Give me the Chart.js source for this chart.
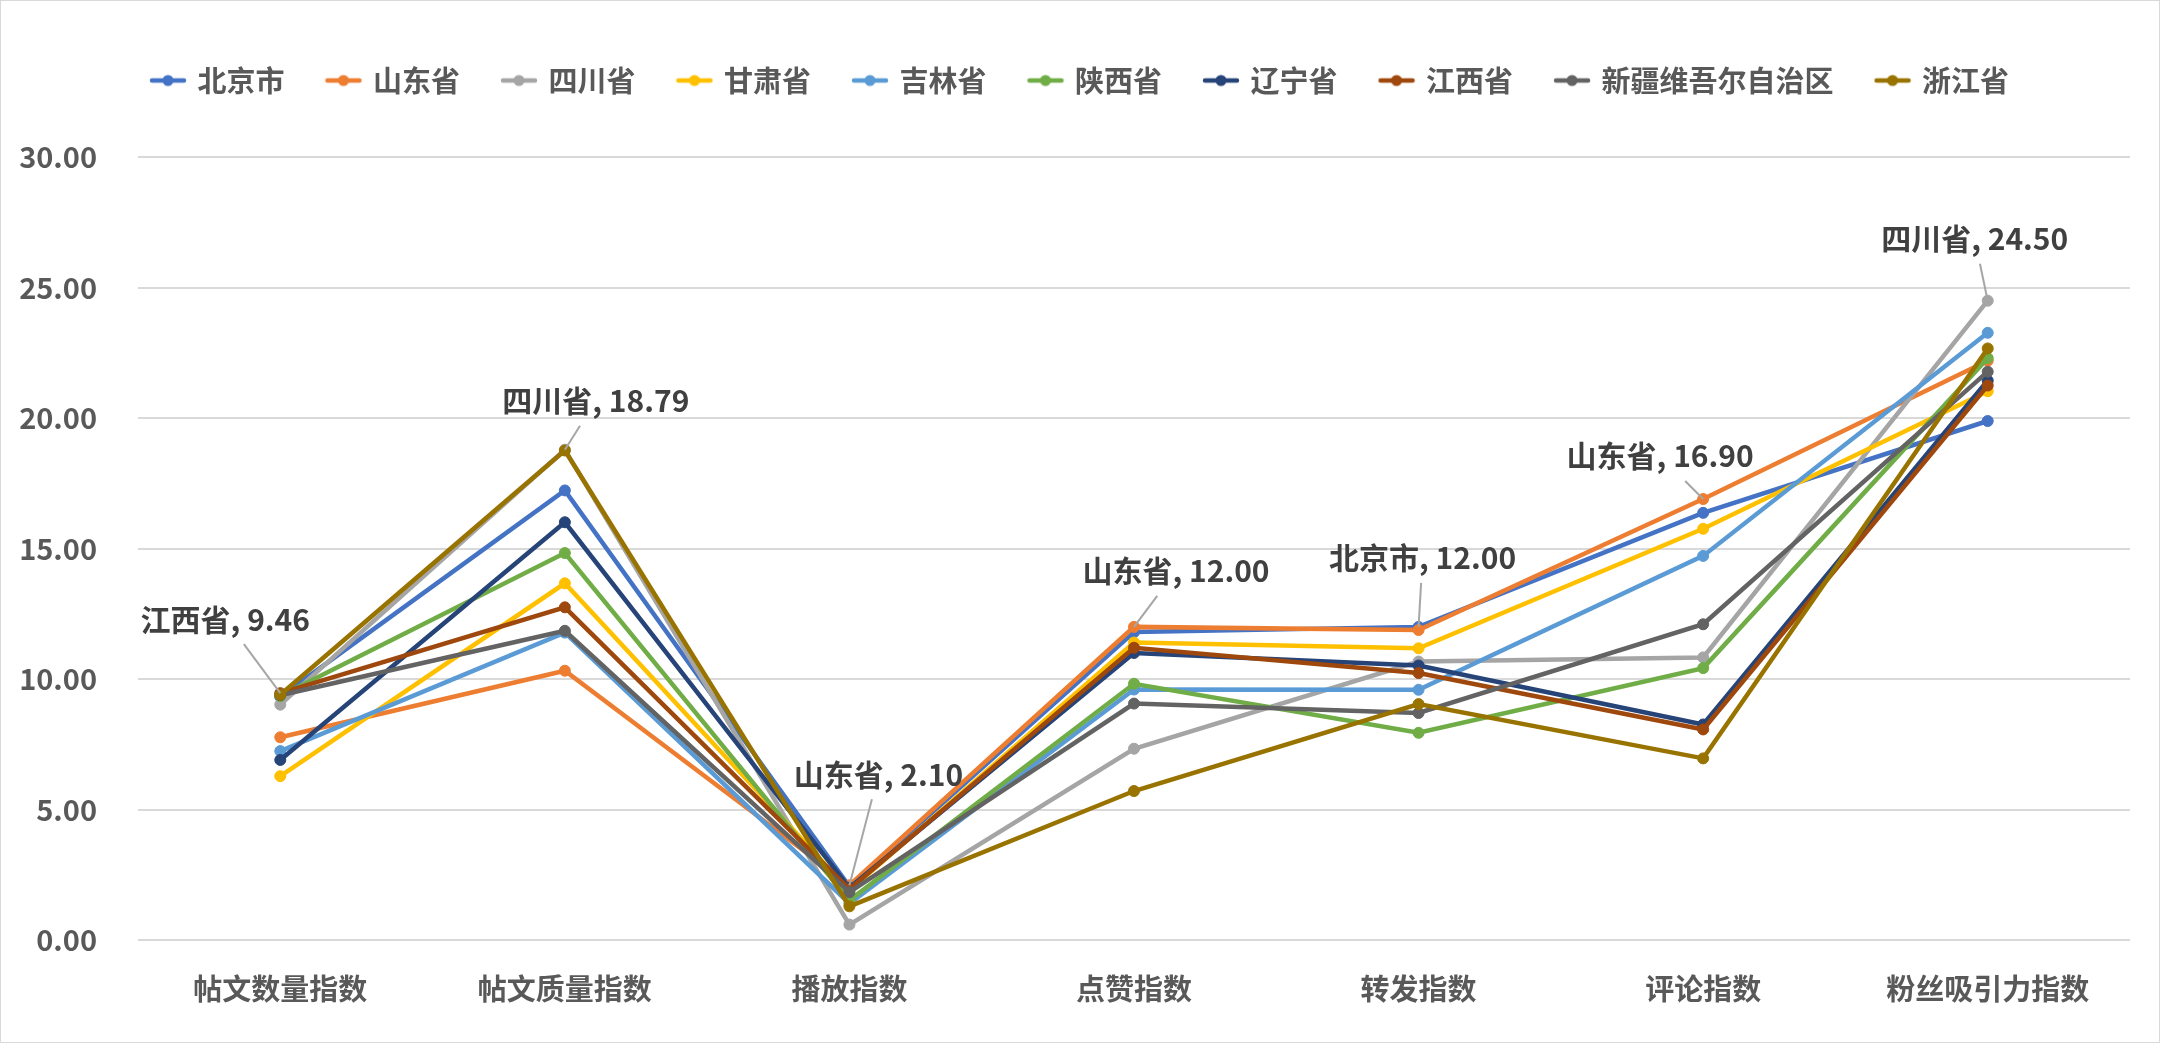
<!DOCTYPE html>
<html>
<head>
<meta charset="utf-8">
<script src="https://cdn.jsdelivr.net/npm/chart.js@4"></script>
<style>
  html, body { margin: 0; padding: 0; background: #fff; }
  #wrap { width: 2160px; height: 1043px; position: relative; }
</style>
</head>
<body>
<div id="wrap"><canvas id="g-indices"></canvas></div>
<script>
const categories = ['帖文数量指数', '帖文质量指数', '播放指数', '点赞指数', '转发指数', '评论指数', '粉丝吸引力指数'];
const seriesNames = ['北京市', '山东省', '四川省', '甘肃省', '吉林省', '陕西省', '辽宁省', '江西省', '新疆维吾尔自治区', '浙江省'];

const beijing   = [9.32, 17.23, 2.05, 11.80, 12.00, 16.37, 19.89];
const shandong  = [7.77, 10.32, 2.10, 12.00, 11.88, 16.90, 22.20];
const sichuan   = [9.02, 18.79, 0.59, 7.33, 10.67, 10.83, 24.50];
const gansu     = [6.28, 13.67, 1.90, 11.40, 11.18, 15.76, 21.03];
const jilin     = [7.24, 11.78, 1.40, 9.60, 9.59, 14.72, 23.27];
const shaanxi   = [9.35, 14.83, 1.52, 9.82, 7.94, 10.42, 22.30];
const liaoning  = [6.90, 16.01, 2.00, 11.00, 10.52, 8.26, 21.44];
const jiangxi   = [9.46, 12.75, 1.95, 11.20, 10.23, 8.07, 21.25];
const xinjiang  = [9.38, 11.85, 1.83, 9.06, 8.70, 12.10, 21.78];
const zhejiang  = [9.40, 18.76, 1.29, 5.71, 9.04, 6.96, 22.67];

const yTicks = [0, 5, 10, 15, 20, 25, 30];

// which point gets a callout: series index + category index
const callouts = [
    { series: 7, cat: 0 },
    { series: 2, cat: 1 },
    { series: 1, cat: 2 },
    { series: 1, cat: 3 },
    { series: 0, cat: 4 },
    { series: 1, cat: 5 },
    { series: 2, cat: 6 }
];
// label centre offset from the point, in px
const calloutOffsets = [[-55, -74], [31, -49], [29, -111], [42, -56], [4, -69], [-43, -43], [-13, -62]];

const seriesData = [beijing, shandong, sichuan, gansu, jilin, shaanxi, liaoning, jiangxi, xinjiang, zhejiang];
const colors = ['#4472C4', '#ED7D31', '#A5A5A5', '#FFC000', '#5B9BD5', '#70AD47', '#264478', '#9E480E', '#636363', '#997300'];

const FONT = '"Noto Sans CJK SC", "Noto Sans", sans-serif';
const TEXT = '#595959';

function makeIcon(color) {
    const c = document.createElement('canvas');
    c.width = 38; c.height = 14;
    const x = c.getContext('2d');
    x.strokeStyle = color;
    x.lineWidth = 4.5;
    x.lineCap = 'round';
    x.beginPath(); x.moveTo(3, 7); x.lineTo(35, 7); x.stroke();
    x.fillStyle = color;
    x.beginPath(); x.arc(19, 7, 5.5, 0, Math.PI * 2); x.fill();
    return c;
}
const legendIcons = colors.map(makeIcon);

const frame = {
    id: 'frame',
    afterLayout(chart) {
        // nudge legend row a bit right, like the original
        chart.legend.left += 16;
        chart.legend.right += 16;
    },
    beforeDraw(chart) {
        const { ctx, width, height } = chart;
        ctx.save();
        ctx.fillStyle = '#fff';
        ctx.fillRect(0, 0, width, height);
        ctx.strokeStyle = '#d9d9d9';
        ctx.lineWidth = 1;
        ctx.strokeRect(0.5, 0.5, width - 1, height - 1);
        ctx.restore();
    }
};

const calloutPlugin = {
    id: 'callouts',
    afterDatasetsDraw(chart) {
        const ctx = chart.ctx;
        ctx.save();
        ctx.font = 'bold 30px ' + FONT;
        ctx.textAlign = 'center';
        ctx.textBaseline = 'middle';
        callouts.forEach((c, i) => {
            const pt = chart.getDatasetMeta(c.series).data[c.cat];
            const value = seriesData[c.series][c.cat];
            const text = `${seriesNames[c.series]}, ${value.toFixed(2)}`;
            const [dx, dy] = calloutOffsets[i];
            const lx = pt.x + dx, ly = pt.y + dy;
            const hw = ctx.measureText(text).width / 2 + 4, hh = 15 + 10;
            // start the leader where the line to the point leaves the label box
            const vx = pt.x - lx, vy = pt.y - ly;
            const t = Math.min(Math.abs(vx) > 0 ? hw / Math.abs(vx) : Infinity, Math.abs(vy) > 0 ? hh / Math.abs(vy) : Infinity);
            if (t < 1) {
                ctx.strokeStyle = '#a6a6a6';
                ctx.lineWidth = 2;
                ctx.beginPath();
                ctx.moveTo(lx + vx * t, ly + vy * t);
                ctx.lineTo(pt.x, pt.y);
                ctx.stroke();
            }
            ctx.fillStyle = '#404040';
            ctx.fillText(text, lx, ly);
        });
        ctx.restore();
    }
};

const datasets = seriesNames.map((name, i) => ({
    label: name,
    data: seriesData[i],
    borderColor: colors[i],
    backgroundColor: colors[i],
    pointBackgroundColor: colors[i],
    pointBorderColor: colors[i],
    borderWidth: 4.5,
    pointRadius: 5.5,
    pointBorderWidth: 1,
    tension: 0,
    order: seriesNames.length - i
}));

const ctx = document.getElementById('g-indices').getContext('2d');
new Chart(ctx, {
    type: 'line',
    data: { labels: categories, datasets },
    options: {
        responsive: true,
        maintainAspectRatio: false,
        animation: false,
        layout: { padding: { top: 22, right: 30, bottom: 0, left: 0 } },
        plugins: {
            legend: {
                position: 'top',
                labels: {
                    usePointStyle: true,
                    pointStyleWidth: 30,
                    padding: 44,
                    color: TEXT,
                    font: { family: FONT, size: 29, weight: 'bold' },
                    sort: (a, b) => a.datasetIndex - b.datasetIndex,
                    generateLabels(chart) {
                        const items = Chart.defaults.plugins.legend.labels.generateLabels(chart);
                        items.forEach(it => { it.pointStyle = legendIcons[it.datasetIndex]; });
                        return items;
                    }
                }
            },
            // empty title used as spacer between legend and plot
            title: { display: true, text: '', weight: 500, font: { size: 1 }, padding: { top: 51, bottom: 0 } },
            tooltip: { enabled: false }
        },
        scales: {
            x: {
                offset: true,
                grid: { display: false, drawTicks: false, offset: true },
                border: { display: false },
                ticks: { color: TEXT, padding: 32, font: { family: FONT, size: 29, weight: 'bold' } },
                afterFit: s => { s.height = 103; }
            },
            y: {
                min: 0,
                max: 30,
                afterBuildTicks: s => { s.ticks = yTicks.map(v => ({ value: v })); },
                grid: { color: '#d9d9d9', lineWidth: 2, drawTicks: false },
                border: { display: false },
                ticks: {
                    color: TEXT,
                    padding: 41,
                    font: { family: FONT, size: 29, weight: 'bold' },
                    callback: v => Number(v).toFixed(2)
                },
                afterFit: s => { s.width = 138; }
            }
        }
    },
    plugins: [frame, calloutPlugin]
});
</script>
</body>
</html>
